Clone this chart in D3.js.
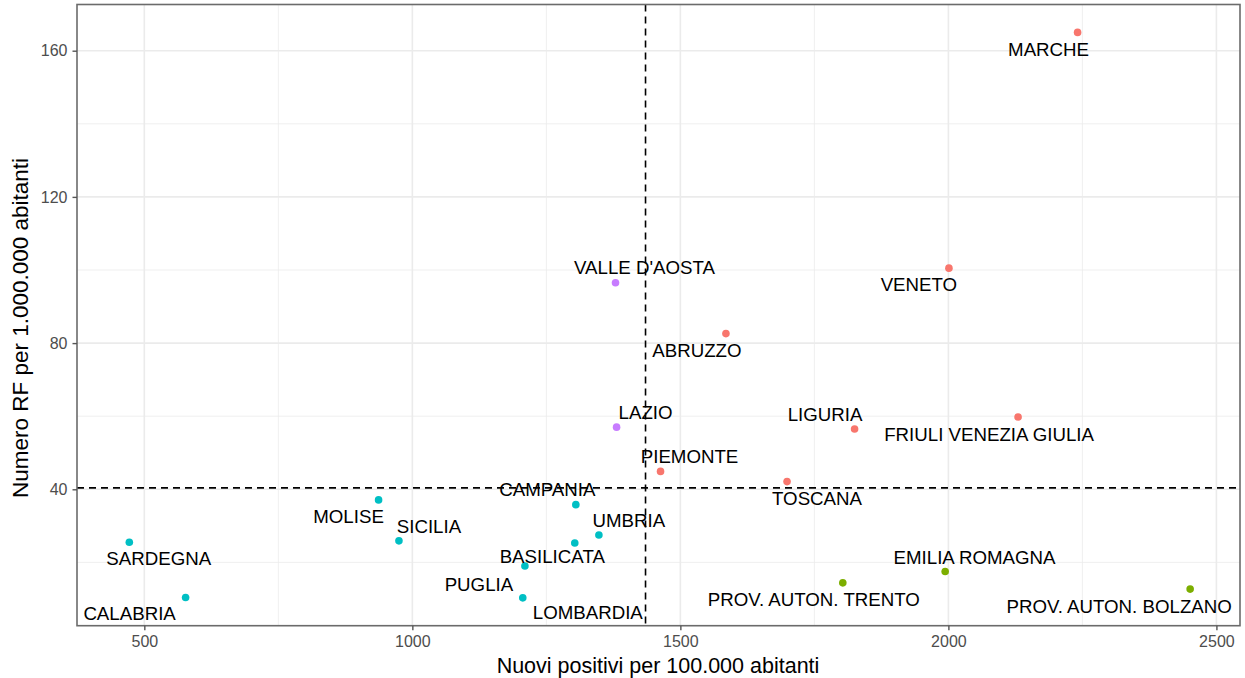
<!DOCTYPE html>
<html>
<head>
<meta charset="utf-8">
<script src="https://cdn.jsdelivr.net/npm/d3@7/dist/d3.min.js"></script>
<style>
  body { margin: 0; background: #fff; }
  svg { display: block; font-family: "Liberation Sans", Arial, sans-serif; }
</style>
</head>
<body>
<svg id="chart" width="1245" height="678"></svg>
<script>
// ====== DATI ======
const regioni = ["MARCHE", "VENETO", "VALLE D'AOSTA", "ABRUZZO", "LAZIO", "PIEMONTE", "TOSCANA",
  "CAMPANIA", "UMBRIA", "BASILICATA", "PUGLIA", "LOMBARDIA", "SICILIA", "MOLISE", "SARDEGNA",
  "CALABRIA", "LIGURIA", "FRIULI VENEZIA GIULIA", "PROV. AUTON. TRENTO", "EMILIA ROMAGNA",
  "PROV. AUTON. BOLZANO"];
const positivi = [2241, 2001, 1379, 1585, 1381, 1463, 1699, 1305, 1348, 1303, 1210, 1206, 975, 937,
  472, 577, 1825, 2130, 1803, 1994, 2451];
const rf = [165.0, 100.5, 96.5, 82.6, 57.0, 44.9, 42.1, 35.8, 27.5, 25.3, 19.0, 10.3, 25.9, 37.1,
  25.5, 10.4, 56.5, 59.8, 14.4, 17.5, 12.7];
const cluster = [1, 1, 4, 1, 4, 1, 1, 3, 3, 3, 3, 3, 3, 3, 3, 3, 1, 1, 2, 2, 2];
const clusterColori = ["#F8766D", "#7CAE00", "#00BFC4", "#C77CFF"];

const xTicks = [500, 1000, 1500, 2000, 2500];
const yTicks = [40, 80, 120, 160];
const xMinor = [750, 1250, 1750, 2250];
const yMinor = [20, 60, 100, 140];

const vLinea = 1435;  // riferimento nazionale positivi
const hLinea = 40.4;  // riferimento nazionale RF

// spostamento delle etichette (px), come da ggrepel
const etichetteOffset = {
  "MARCHE": [-29, 17], "VENETO": [-30, 16], "VALLE D'AOSTA": [29, -15], "ABRUZZO": [-29, 17],
  "LAZIO": [29, -14.5], "PIEMONTE": [29, -14.6], "TOSCANA": [30, 17], "CAMPANIA": [-28.5, -15],
  "UMBRIA": [30, -14.7], "BASILICATA": [-22.5, 12.8], "PUGLIA": [-46, 18.5],
  "LOMBARDIA": [65, 14.8], "SICILIA": [30, -14.7], "MOLISE": [-30, 16.2], "SARDEGNA": [29.5, 16.5],
  "CALABRIA": [-56, 16], "LIGURIA": [-29.5, -14.2], "FRIULI VENEZIA GIULIA": [-29, 17.2],
  "PROV. AUTON. TRENTO": [-29, 16.5], "EMILIA ROMAGNA": [29.4, -13.9],
  "PROV. AUTON. BOLZANO": [-71, 16.8]
};

// ====== DISEGNO ======
const svg = d3.select('#chart');
const panel = { left: 77, top: 4.5, right: 1240, bottom: 625.7 };

const x = d3.scaleLinear().domain([374.4, 2544]).range([panel.left, panel.right]);
const y = d3.scaleLinear().domain([2.68, 172.64]).range([panel.bottom, panel.top]);

const dati = regioni.map((r, i) => ({ nome: r, x: positivi[i], y: rf[i], c: cluster[i] }));

// griglia minore
svg.append('g').selectAll('line').data(xMinor).enter().append('line')
  .attr('x1', d => x(d)).attr('x2', d => x(d))
  .attr('y1', panel.top).attr('y2', panel.bottom)
  .attr('stroke', '#EBEBEB').attr('stroke-width', 0.8);
svg.append('g').selectAll('line').data(yMinor).enter().append('line')
  .attr('y1', d => y(d)).attr('y2', d => y(d))
  .attr('x1', panel.left).attr('x2', panel.right)
  .attr('stroke', '#EBEBEB').attr('stroke-width', 0.8);

// griglia maggiore
svg.append('g').selectAll('line').data(xTicks).enter().append('line')
  .attr('x1', d => x(d)).attr('x2', d => x(d))
  .attr('y1', panel.top).attr('y2', panel.bottom)
  .attr('stroke', '#EBEBEB').attr('stroke-width', 1.6);
svg.append('g').selectAll('line').data(yTicks).enter().append('line')
  .attr('y1', d => y(d)).attr('y2', d => y(d))
  .attr('x1', panel.left).attr('x2', panel.right)
  .attr('stroke', '#EBEBEB').attr('stroke-width', 1.6);

// punti
svg.append('g').selectAll('circle').data(dati).enter().append('circle')
  .attr('cx', d => x(d.x)).attr('cy', d => y(d.y))
  .attr('r', 3.8)
  .attr('fill', d => clusterColori[d.c - 1]);

// etichette
const fontEtichette = 18.7;
svg.append('g').selectAll('text').data(dati).enter().append('text')
  .attr('x', d => x(d.x) + etichetteOffset[d.nome][0])
  .attr('y', d => y(d.y) + etichetteOffset[d.nome][1] + fontEtichette * 0.358)
  .attr('text-anchor', 'middle')
  .attr('font-size', fontEtichette)
  .attr('fill', '#000')
  .text(d => d.nome);

// linee tratteggiate
svg.append('line')
  .attr('x1', x(vLinea)).attr('x2', x(vLinea))
  .attr('y1', panel.top).attr('y2', panel.bottom)
  .attr('stroke', '#000').attr('stroke-width', 1.6).attr('stroke-dasharray', '7,5');
svg.append('line')
  .attr('x1', panel.left).attr('x2', panel.right)
  .attr('y1', y(hLinea)).attr('y2', y(hLinea))
  .attr('stroke', '#000').attr('stroke-width', 1.6).attr('stroke-dasharray', '7,5');

// bordo pannello
svg.append('rect')
  .attr('x', panel.left).attr('y', panel.top)
  .attr('width', panel.right - panel.left).attr('height', panel.bottom - panel.top)
  .attr('fill', 'none').attr('stroke', '#6b6b6b').attr('stroke-width', 1.6);

// assi
const xAxis = svg.append('g')
  .attr('transform', `translate(0,${panel.bottom})`)
  .call(d3.axisBottom(x).tickValues(xTicks).tickSize(4.5).tickPadding(5).tickFormat(d3.format('d')));
const yAxis = svg.append('g')
  .attr('transform', `translate(${panel.left},0)`)
  .call(d3.axisLeft(y).tickValues(yTicks).tickSize(4.5).tickPadding(5).tickFormat(d3.format('d')));

[xAxis, yAxis].forEach(a => {
  a.select('.domain').remove();
  a.selectAll('.tick line').attr('stroke', '#555').attr('stroke-width', 1.4);
  a.selectAll('.tick text')
    .attr('fill', '#4D4D4D')
    .attr('font-size', 16)
    .attr('font-family', '"Liberation Sans", Arial, sans-serif');
});

// titoli assi
svg.append('text')
  .attr('x', 658).attr('y', 673)
  .attr('text-anchor', 'middle')
  .attr('font-size', 21.5)
  .attr('fill', '#000')
  .text('Nuovi positivi per 100.000 abitanti');

svg.append('text')
  .attr('transform', 'translate(28.3,328) rotate(-90)')
  .attr('text-anchor', 'middle')
  .attr('font-size', 22.5)
  .attr('fill', '#000')
  .text('Numero RF per 1.000.000 abitanti');
</script>
</body>
</html>
